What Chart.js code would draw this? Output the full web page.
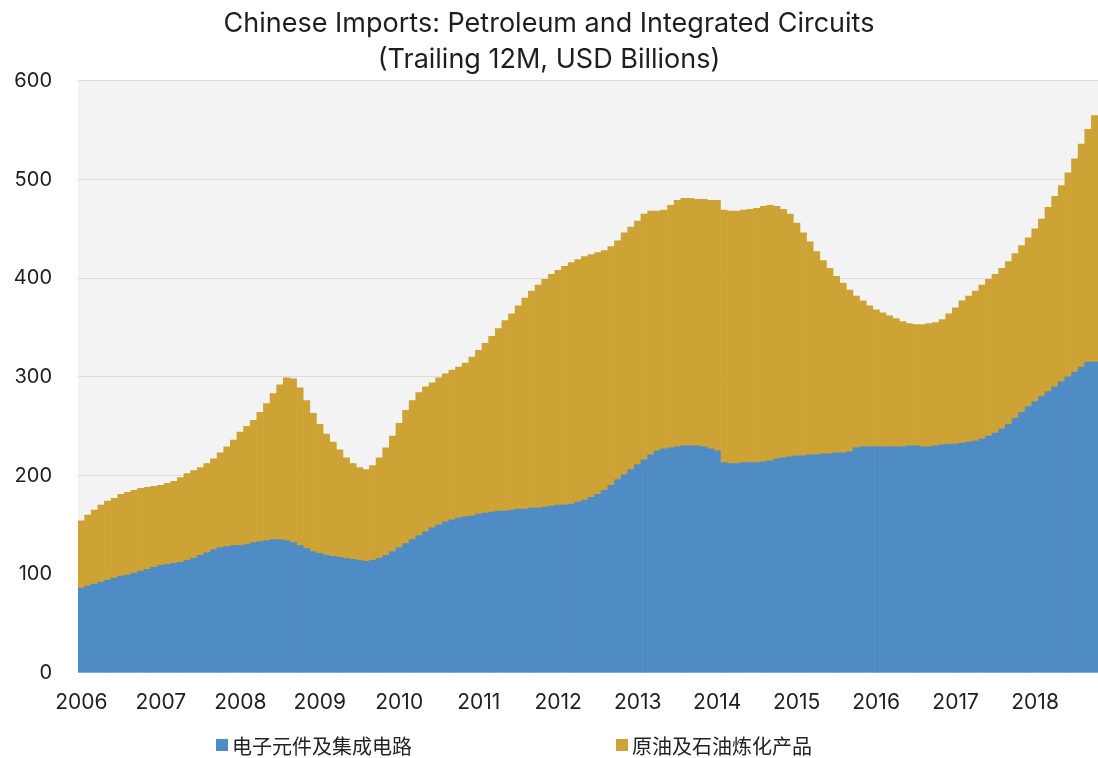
<!DOCTYPE html>
<html>
<head>
<meta charset="utf-8">
<script src="https://cdn.jsdelivr.net/npm/chart.js@4.4.1/dist/chart.umd.min.js"></script>
<style>
  html, body { margin: 0; padding: 0; background: #ffffff; overflow: hidden; }
  #wrap { position: relative; width: 1098px; height: 758px; }
  canvas { display: block; }
  #legend {
    position: absolute; left: 0; top: 733px; width: 1098px; height: 24px;
    font-family: "Noto Sans CJK SC", "Noto Sans", sans-serif; font-size: 20px; color: #222;
  }
  .item { position: absolute; top: 0; display: flex; align-items: center; height: 24px; white-space: nowrap; }
  .swatch { width: 12px; height: 12px; margin-right: 4px; }
</style>
</head>
<body>
<div id="wrap">
  <canvas id="c" width="1098" height="758"></canvas>
  <div id="legend"></div>
</div>
<script>
// Years covered (monthly data, Jan 2006 – Oct 2018)
const years = [2006, 2007, 2008, 2009, 2010, 2011, 2012, 2013, 2014, 2015, 2016, 2017, 2018];
const lastYearMonths = 10;

const seriesNames = ['电子元件及集成电路', '原油及石油炼化产品'];

// Electronic components & integrated circuits, trailing 12M, USD bn
const chips = [
  86, 88, 90, 92, 94, 96, 98, 99, 101, 103, 105, 107,
  109, 110, 111, 112, 114, 116, 119, 122, 125, 127, 128, 129,
  129, 130, 132, 133, 134, 135, 135, 134, 132, 129, 126, 123,
  121, 119, 118, 117, 116, 115, 114, 113, 114, 116, 119, 123,
  127, 131, 135, 139, 143, 147, 150, 153, 155, 157, 158, 159,
  161, 162, 163, 164, 164, 165, 166, 166, 167, 167, 168, 169,
  170, 170, 171, 173, 175, 178, 181, 185, 190, 196, 201, 206,
  211, 216, 221, 225, 227, 228, 229, 230, 230, 230, 229, 227,
  225, 213, 212, 212, 213, 213, 213, 214, 215, 217, 218, 219,
  220, 220, 221, 221, 222, 222, 223, 223, 224, 228, 229, 229,
  229, 229, 229, 229, 229, 230, 230, 229, 229, 230, 231, 232,
  232, 233, 234, 235, 237, 240, 243, 247, 252, 258, 264, 270,
  275, 280, 285, 290, 295, 300, 305, 310, 315, 315
];

// Crude oil & refined petroleum products, trailing 12M, USD bn
const petroleum = [
  68, 72, 75, 78, 80, 81, 83, 84, 84, 84, 83, 82,
  81, 82, 83, 86, 88, 89, 89, 90, 92, 96, 101, 107,
  115, 120, 124, 131, 139, 148, 157, 165, 166, 160, 150, 140,
  131, 123, 116, 109, 102, 97, 94, 93, 96, 102, 109, 117,
  126, 135, 141, 145, 147, 147, 149, 150, 152, 153, 156, 161,
  166, 172, 178, 185, 193, 199, 206, 214, 220, 226, 231, 235,
  238, 242, 245, 246, 247, 246, 245, 243, 242, 242, 245, 246,
  247, 249, 247, 243, 242, 246, 250, 251, 251, 250, 251, 252,
  254, 256, 256, 256, 256, 257, 258, 259, 259, 256, 252, 246,
  236, 226, 216, 206, 196, 188, 179, 172, 164, 154, 148, 143,
  139, 136, 133, 130, 127, 124, 123, 124, 125, 125, 127, 132,
  138, 144, 148, 152, 156, 159, 161, 163, 165, 167, 169, 171,
  175, 180, 187, 193, 199, 207, 216, 226, 236, 250
];

const yTicks = [0, 100, 200, 300, 400, 500, 600];

const colors = ['#4f8bc4', '#cca334'];

// Month categories: year label on each January
const categories = [];
years.forEach((y, yi) => {
  const n = yi === years.length - 1 ? lastYearMonths : 12;
  for (let m = 1; m <= n; m++) categories.push(y + '-' + String(m).padStart(2, '0'));
});

const plotBackground = {
  id: 'plotBackground',
  beforeDraw(chart) {
    const { ctx, chartArea: a } = chart;
    ctx.save();
    ctx.fillStyle = '#f3f3f3';
    ctx.fillRect(a.left, a.top, a.right - a.left, a.bottom - a.top);
    ctx.restore();
  }
};

const textColor = '#1e1e1e';
const baseFont = 'Inter, "Noto Sans", sans-serif';

new Chart(document.getElementById('c'), {
  type: 'bar',
  data: {
    labels: categories,
    datasets: [
      { label: seriesNames[0], data: chips, backgroundColor: colors[0], barPercentage: 1, categoryPercentage: 1, borderWidth: 0 },
      { label: seriesNames[1], data: petroleum, backgroundColor: colors[1], barPercentage: 1, categoryPercentage: 1, borderWidth: 0 }
    ]
  },
  options: {
    responsive: false,
    animation: false,
    layout: { padding: { left: 0, right: 0, top: 0, bottom: 26 } },
    plugins: {
      legend: { display: false },
      tooltip: { enabled: false },
      title: {
        display: true,
        text: ['Chinese Imports: Petroleum and Integrated Circuits', '(Trailing 12M, USD Billions)'],
        color: textColor,
        font: { family: baseFont, size: 27, weight: '400', lineHeight: 1.333 },
        padding: { top: 6, bottom: 3 }
      }
    },
    scales: {
      x: {
        stacked: true,
        offset: true,
        grid: { display: false, drawTicks: false },
        border: { display: false },
        afterFit: (s) => { s.paddingLeft = 0; s.paddingRight = 0; },
        ticks: {
          autoSkip: false,
          maxRotation: 0,
          minRotation: 0,
          padding: 17,
          color: textColor,
          font: { family: baseFont, size: 21 },
          callback: (v, i) => (i % 12 === 0 ? categories[i].slice(0, 4) : '')
        }
      },
      y: {
        stacked: true,
        min: 0,
        max: 600,
        afterBuildTicks: (s) => { s.ticks = yTicks.map(v => ({ value: v })); },
        afterFit: (s) => { s.width = 78; },
        grid: { color: '#dcdcdc', lineWidth: 1, drawTicks: false },
        border: { display: false },
        ticks: {
          padding: 26,
          color: textColor,
          font: { family: baseFont, size: 20 }
        }
      }
    }
  },
  plugins: [plotBackground]
});

// Legend row
const legend = document.getElementById('legend');
const legendX = [216, 616];
seriesNames.forEach((name, i) => {
  const item = document.createElement('div');
  item.className = 'item';
  item.style.left = legendX[i] + 'px';
  const sw = document.createElement('span');
  sw.className = 'swatch';
  sw.style.background = colors[i];
  const tx = document.createElement('span');
  tx.textContent = name;
  item.appendChild(sw);
  item.appendChild(tx);
  legend.appendChild(item);
});
</script>
</body>
</html>
